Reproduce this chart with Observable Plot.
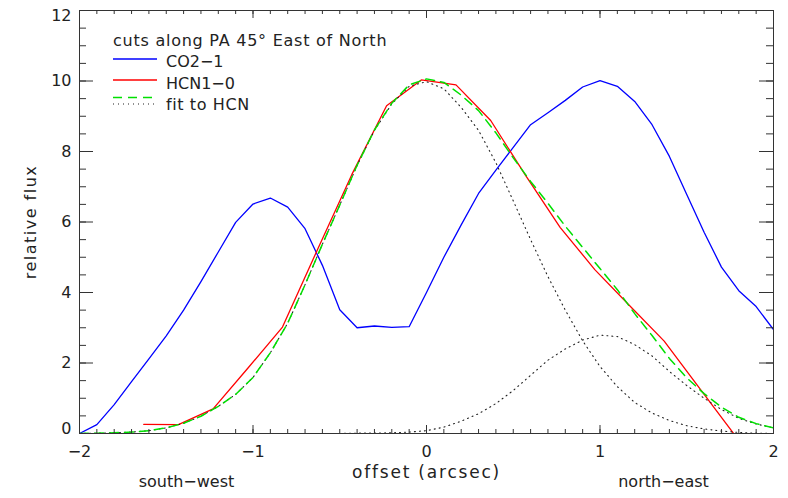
<!DOCTYPE html>
<html><head><meta charset="utf-8">
<script src="https://cdn.jsdelivr.net/npm/d3@7"></script>
<script src="https://cdn.jsdelivr.net/npm/@observablehq/plot@0.6"></script>
<style>
body{margin:0;background:#fff}
#chart svg{display:block}
</style></head><body><div id="chart"></div>
<script>
// ---- data ----
const offsets = [-2.0,-1.9,-1.8,-1.7,-1.6,-1.5,-1.4,-1.3,-1.2,-1.1,-1.0,-0.9,-0.8,-0.7,-0.6,-0.5,-0.4,-0.3,-0.2,-0.1,
  0.0,0.1,0.2,0.3,0.4,0.5,0.6,0.7,0.8,0.9,1.0,1.1,1.2,1.3,1.4,1.5,1.6,1.7,1.8,1.9,2.0];
const fluxCO = [0.0,0.25,0.82,1.47,2.12,2.77,3.5,4.31,5.15,5.99,6.51,6.68,6.42,5.81,4.77,3.51,3.0,3.05,3.01,3.03,
  4.0,5.0,5.92,6.81,7.47,8.12,8.76,9.1,9.45,9.83,10.01,9.85,9.42,8.76,7.86,6.78,5.71,4.72,4.05,3.6,2.95];
const offsetsHCN = [-1.63,-1.43,-1.23,-1.03,-0.83,-0.63,-0.43,-0.23,-0.03,0.17,0.37,0.57,0.77,0.97,1.17,1.37,1.57,1.77];
const fluxHCN = [0.26,0.25,0.70,1.85,3.02,5.2,7.35,9.30,10.03,9.89,8.88,7.33,5.85,4.65,3.63,2.62,1.31,0.0];
const fluxFit = [0.0,0.01,0.02,0.04,0.08,0.16,0.29,0.49,0.77,1.11,1.59,2.29,3.13,4.22,5.37,6.48,7.61,8.61,9.37,9.89,
  10.06,9.96,9.6,9.16,8.53,7.82,7.15,6.53,5.88,5.28,4.68,4.08,3.4,2.78,2.13,1.58,1.13,0.75,0.46,0.28,0.16];
const fluxComp1 = [0.0,0.01,0.02,0.04,0.08,0.16,0.29,0.49,0.77,1.11,1.59,2.29,3.13,4.22,5.37,6.48,7.6,8.6,9.35,9.85,
  9.98,9.78,9.25,8.6,7.68,6.6,5.5,4.45,3.5,2.63,1.9,1.33,0.88,0.58,0.37,0.22,0.13,0.07,0.03,0.01,0.0];
const fluxComp2 = [0,0,0,0,0,0,0,0,0,0,0,0,0,0,0,0,0.01,0.01,0.02,0.04,
  0.08,0.18,0.35,0.56,0.85,1.22,1.65,2.08,2.4,2.65,2.79,2.75,2.52,2.2,1.76,1.36,1.0,0.68,0.43,0.27,0.16];
const xTickValues = [-2,-1,0,1,2];
const yTickValues = [0,2,4,6,8,10,12];
const legendTitle = "cuts along PA 45° East of North";
const seriesNames = ["CO2−1","HCN1−0","fit to HCN"];
const sideLabels = ["south−west","north−east"];
const xLabel = "offset (arcsec)";
const yLabel = "relative flux";

// ---- tables ----
const co = offsets.map((x,i)=>({x, y: fluxCO[i]}));
const hcn = offsetsHCN.map((x,i)=>({x, y: fluxHCN[i]}));
const fit = offsets.map((x,i)=>({x, y: fluxFit[i]}));
const comp1 = offsets.map((x,i)=>({x, y: fluxComp1[i]}));
const comp2 = offsets.map((x,i)=>({x, y: fluxComp2[i]}));

const W = 788, H = 498, mL = 79, mR = 15, mT = 10, mB = 65;
const iW = W - mL - mR, iH = H - mT - mB;
const xMinor = d3.range(-20, 21).map(d => d / 10);
const yMinor = d3.range(0, 25).map(d => d / 2);
const axisColor = "#333";
const textColor = "#222";
const FONT = "'DejaVu Sans', sans-serif";
const fmt = d => (d < 0 ? "−" : "") + Math.abs(d);

const blue = "#0000ff", red = "#ff0000", green = "#00e000", dotc = "#222";
const dotDash = "1,4", fitDash = "9,6";

function legend(index, scales, values, dims) {
  const g = d3.create("svg:g").attr("font-family", FONT).attr("font-size", 16)
    .attr("fill", textColor).attr("text-anchor", "start");
  const x0 = dims.marginLeft + 34, x1 = x0 + 44, xt = x0 + 53;
  const top = dims.marginTop;
  g.append("text").attr("x", x0).attr("y", top + 36).attr("letter-spacing", 0.75).text(legendTitle);
  const rows = [
    {name: seriesNames[0], lines: [{c: blue, dash: null, dy: 49}], ty: 57, ls: 0},
    {name: seriesNames[1], lines: [{c: red, dash: null, dy: 70}], ty: 78.5, ls: 0},
    {name: seriesNames[2], lines: [{c: green, dash: fitDash, dy: 87.5, w: 1.5}, {c: dotc, dash: dotDash, dy: 94, w: 1.1}], ty: 99.5, ls: 0.6}
  ];
  for (const r of rows) {
    for (const l of r.lines) {
      g.append("line").attr("x1", x0).attr("x2", x1).attr("y1", top + l.dy).attr("y2", top + l.dy)
        .attr("stroke", l.c).attr("stroke-width", l.w || 1.3).attr("stroke-dasharray", l.dash);
    }
    g.append("text").attr("x", xt).attr("y", top + r.ty).attr("letter-spacing", r.ls).text(r.name);
  }
  return g.node();
}

const plot = Plot.plot({
  width: W, height: H,
  marginLeft: mL, marginRight: mR, marginTop: mT, marginBottom: mB,
  style: {fontFamily: FONT, fontSize: "16px", color: textColor, background: "#fff"},
  x: {domain: [-2, 2], label: null},
  y: {domain: [0, 12], label: null},
  marks: [
    // curves
    Plot.line(co, {x: "x", y: "y", stroke: blue, strokeWidth: 1.3, clip: true}),
    Plot.line(hcn, {x: "x", y: "y", stroke: red, strokeWidth: 1.3, clip: true}),
    Plot.line(comp1, {x: "x", y: "y", stroke: dotc, strokeWidth: 1.1, strokeDasharray: dotDash, clip: true}),
    Plot.line(comp2, {x: "x", y: "y", stroke: dotc, strokeWidth: 1.1, strokeDasharray: dotDash, clip: true}),
    Plot.line(fit, {x: "x", y: "y", stroke: green, strokeWidth: 1.5, strokeDasharray: fitDash, clip: true}),
    // frame
    Plot.frame({stroke: axisColor}),
    // x ticks: bottom & top, inward
    Plot.tickX(xMinor, {x: d => d, stroke: axisColor, insetTop: iH - 4}),
    Plot.tickX(xMinor, {x: d => d, stroke: axisColor, insetBottom: iH - 4}),
    Plot.tickX(xTickValues, {x: d => d, stroke: axisColor, insetTop: iH - 8}),
    Plot.tickX(xTickValues, {x: d => d, stroke: axisColor, insetBottom: iH - 8}),
    // y ticks: left & right, inward
    Plot.tickY(yMinor, {y: d => d, stroke: axisColor, insetRight: iW - 7}),
    Plot.tickY(yMinor, {y: d => d, stroke: axisColor, insetLeft: iW - 7}),
    Plot.tickY(yTickValues, {y: d => d, stroke: axisColor, insetRight: iW - 14}),
    Plot.tickY(yTickValues, {y: d => d, stroke: axisColor, insetLeft: iW - 14}),
    // tick labels
    Plot.axisX(xTickValues, {tickSize: 0, tickPadding: 12, label: null, tickFormat: fmt}),
    Plot.axisY(yTickValues.slice(1, -1), {tickSize: 0, tickPadding: 8, label: null, tickFormat: fmt}),
    Plot.axisY(yTickValues.slice(0, 1), {tickSize: 0, tickPadding: 8, label: null, dy: -5, tickFormat: fmt}),
    Plot.axisY(yTickValues.slice(-1), {tickSize: 0, tickPadding: 8, label: null, dy: 5, tickFormat: fmt}),
    // axis titles
    Plot.text([xLabel], {text: d => d, frameAnchor: "bottom", dy: 39, textAnchor: "middle", lineAnchor: "middle", fill: textColor, fontSize: 17}),
    Plot.text([yLabel], {text: d => d, frameAnchor: "left", rotate: -90, dx: -49, textAnchor: "middle", lineAnchor: "middle", fill: textColor}),
    Plot.text(sideLabels.slice(0, 1), {text: d => d, frameAnchor: "bottom-left", dx: 107, dy: 48, textAnchor: "middle", lineAnchor: "middle", fill: textColor}),
    Plot.text(sideLabels.slice(1), {text: d => d, frameAnchor: "bottom-right", dx: -110, dy: 48, textAnchor: "middle", lineAnchor: "middle", fill: textColor}),
    legend
  ]
});
// wider letter spacing for the axis titles (the original uses a wide vector font)
d3.select(plot).selectAll("text").filter(function() { return this.textContent === xLabel; }).attr("letter-spacing", 1.8);
d3.select(plot).selectAll("text").filter(function() { return this.textContent === yLabel; }).attr("letter-spacing", 1.5);
document.getElementById("chart").append(plot);
</script></body></html>
